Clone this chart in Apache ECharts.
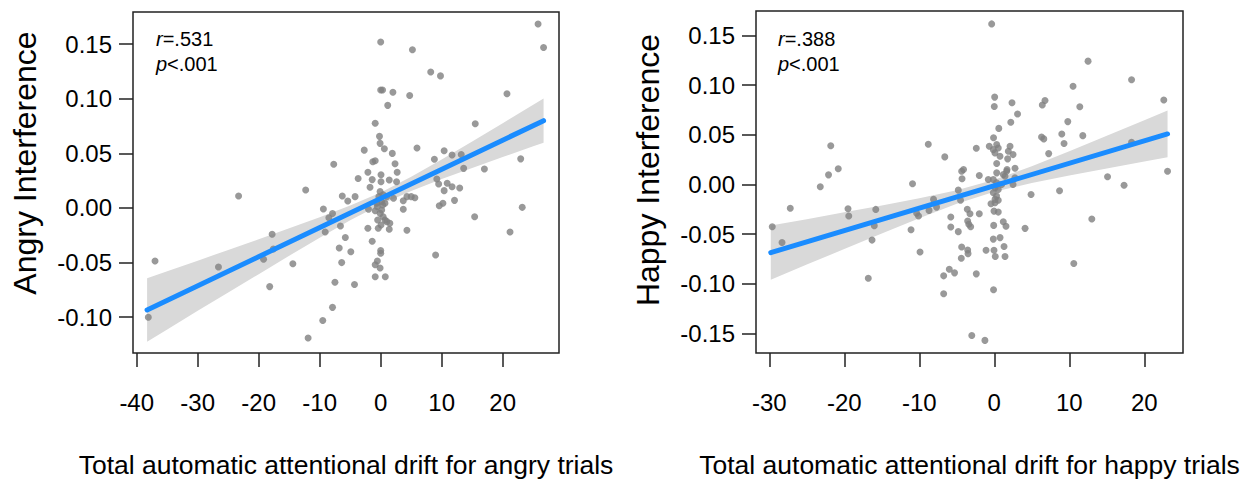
<!DOCTYPE html>
<html>
<head>
<meta charset="utf-8">
<script src="https://cdn.jsdelivr.net/npm/echarts@6/dist/echarts.min.js"></script>
<style>
html,body{margin:0;padding:0;background:#fff;}
#chart{width:1248px;height:483px;}
</style>
</head>
<body>
<div id="chart"></div>
<script>
// ---- Left panel: angry trials ----
const angryX = [-38.1,-37.0,-26.6,-23.3,-17.8,-17.6,-19.2,-18.2,-14.4,-12.3,-11.9,
  -9.4,-7.9,-8.5,-9.1,-6.6,-5.8,-6.8,-4.9,-6.4,-7.5,-4.3,-7.9,-9.5,-6.3,-5.4,-4.2,-3.7,-2.1,-1.75,-1.4,
  0.05,0.05,1.4,2.6,2.7,-0.1,-0.3,0.4,1.0,0.15,0.7,2.1,-0.55,-0.9,-0.1,0.4,-0.5,1.0,1.5,0.05,-2.0,-2.1,-0.4,1.4,
  -1.4,0.0,0.0,-0.55,-0.9,-0.1,-0.9,0.75,4.3,3.7,5.6,5.0,3.7,4.3,9.2,9.5,10.9,10.4,11.7,12.95,12.1,10.2,9.6,
  15.4,9.0,21.2,23.2,25.8,26.7,0.0,5.2,8.2,9.8,20.7,0.0,0.3,2.0,4.75,1.15,-0.9,15.5,-0.2,-0.1,0.6,-2.7,5.95,
  1.9,-7.7,-1.3,-0.9,2.35,8.8,10.4,11.7,13.2,13.6,17.0,22.95,-0.66,0.33,0.16,0.7];
const angryY = [-0.100,-0.0485,-0.054,0.011,-0.024,-0.0375,-0.047,-0.072,-0.051,0.0165,-0.119,
  -0.001,-0.005,-0.009,-0.022,-0.0165,-0.027,-0.0366,-0.040,-0.050,-0.068,-0.070,-0.091,-0.103,0.011,0.0064,0.0104,0.027,0.0327,0.019,0.026,
  0.0305,0.024,0.0256,0.024,0.0327,0.015,0.0104,0.012,0.0104,0.0058,0.0043,0.0089,0.0012,-0.0025,-0.0049,-0.008,-0.011,-0.0125,-0.014,-0.0156,-0.0012,-0.0186,-0.0186,-0.0195,
  -0.0305,-0.039,-0.0415,-0.0485,-0.052,-0.055,-0.063,-0.063,0.0104,0.0067,0.0094,0.0104,-0.0012,-0.0204,0.0265,0.022,0.0226,0.0159,0.0195,0.0183,0.007,0.0043,0.0021,
  -0.008,-0.043,-0.022,0.0006,0.1685,0.147,0.152,0.145,0.1245,0.121,0.1047,0.108,0.108,0.106,0.103,0.094,0.0776,0.0772,0.0656,0.0592,0.0543,0.053,0.055,
  0.050,0.040,0.0424,0.0433,0.0406,0.0446,0.0525,0.0485,0.049,0.0363,0.0357,0.045,0.0043,0.0027,-0.0018,-0.011];
const angryXTicks = [-40,-30,-20,-10,0,10,20];
const angryYTicks = [-0.10,-0.05,0.00,0.05,0.10,0.15];
const angryFitX = [-38.3, 26.7];
const angryFitY = [-0.0934, 0.0800];
const angryBandX  = [-38.3,-35,-30,-25,-20,-15,-10,-5,0,5,10,15,20,25,26.7];
const angryBandLo = [-0.1224,-0.1112,-0.0942,-0.0774,-0.0606,-0.0438,-0.0273,-0.0113,0.0033,0.0156,0.0265,0.0367,0.0467,0.0565,0.0598];
const angryBandHi = [-0.0644,-0.0580,-0.0482,-0.0384,-0.0286,-0.0186,-0.0085,0.0023,0.0143,0.0286,0.0445,0.0609,0.0777,0.0945,0.1002];
const angryStats = ['.531', '<.001'];

// ---- Right panel: happy trials ----
const happyX = [-21.8,-8.8,-20.8,-22.1,-23.2,-27.2,-29.6,-28.3,-19.5,-19.4,-15.8,-16.0,-16.3,-16.8,-10.9,-11.1,-9.9,-10.35,-10.1,-8.7,-8.1,-7.7,
  -4.35,-4.1,-2.0,-4.3,-4.8,-4.5,-3.6,-3.24,-2.0,-5.8,-5.8,-4.8,-3.55,-3.4,-3.15,-4.35,-3.55,-3.5,-4.4,-6.0,-6.75,-5.3,-2.4,-6.75,-3.0,-1.25,-0.1,
  -0.13,0.3,0.1,0.53,-0.13,0.3,0.1,0.53,-0.44,0.1,-0.04,0.53,1.2,1.56,-0.08,-0.13,0.77,1.3,-1.1,-0.04,0.13,1.43,-0.8,0.98,1.43,2.5,2.75,1.65,
  4.9,8.7,4.1,13.0,10.6,15.1,17.3,23.1,-0.35,12.5,18.3,10.5,22.6,0.05,0.0,2.36,3.1,2.2,0.6,6.76,6.4,11.4,9.8,9.0,11.8,9.3,6.3,6.6,7.25,18.3,
  -0.1,-2.4,-0.67,-0.13,0.32,0.53,0.09,0.76,2.1,1.87,2.5,1.78,0.32,1.7,2.76,-6.6,0.32,1.2];
const happyY = [0.039,0.0405,0.0158,0.0097,-0.0023,-0.024,-0.0425,-0.0585,-0.0244,-0.0318,-0.0251,-0.0415,-0.056,-0.0944,0.0007,-0.0455,-0.068,-0.029,-0.0318,-0.0261,-0.015,-0.0228,
  0.0134,0.015,0.009,0.0057,-0.0057,-0.0158,-0.025,-0.0294,-0.0294,-0.0328,-0.0428,-0.0475,-0.0368,-0.040,-0.0425,-0.063,-0.066,-0.0696,-0.0743,-0.0853,-0.092,-0.089,-0.090,-0.110,-0.152,-0.157,-0.106,
  0.005,0.0017,-0.0033,-0.005,-0.0083,-0.0117,-0.015,-0.0158,-0.0194,-0.0184,-0.0268,-0.0278,-0.0375,-0.042,-0.0412,-0.055,-0.0535,-0.0625,-0.0663,-0.0663,-0.0726,-0.0726,0.005,0.0,0.0083,0.0,0.0067,0.0134,
  -0.010,-0.0063,-0.0442,-0.0348,-0.0796,0.0077,-0.0007,0.0134,0.1617,0.1242,0.1054,0.099,0.085,0.088,0.0786,0.0823,0.071,0.0626,0.0565,0.0846,0.080,0.0783,0.0633,0.0509,0.0492,0.0412,0.0479,0.0459,0.0311,0.0425,
  0.047,0.0365,0.0385,0.0351,0.0402,0.0368,0.0318,0.0284,0.0385,0.0335,0.0301,0.0258,0.0211,0.0151,0.0164,0.0278,0.0117,0.010];
const happyXTicks = [-30,-20,-10,0,10,20];
const happyYTicks = [-0.15,-0.10,-0.05,0.00,0.05,0.10,0.15];
const happyFitX = [-29.8, 23.1];
const happyFitY = [-0.0686, 0.0509];
const happyBandX  = [-29.8,-25,-20,-15,-10,-5,0,5,10,15,20,23.1];
const happyBandLo = [-0.0959,-0.0807,-0.0650,-0.0493,-0.0340,-0.0195,-0.0074,0.0016,0.0091,0.0162,0.0231,0.0273];
const happyBandHi = [-0.0413,-0.0349,-0.0280,-0.0211,-0.0138,-0.0057,0.0048,0.0184,0.0335,0.0490,0.0647,0.0745];
const happyStats = ['.388', '<.001'];

const xTitles = ['Total automatic attentional drift for angry trials', 'Total automatic attentional drift for happy trials'];
const yTitles = ['Angry Interference', 'Happy Interference'];

const FONT = '"Liberation Sans", Arial, Helvetica, sans-serif';
const INK = '#222';

const zip = (a, b) => a.map((v, i) => [v, b[i]]);

function bandSeries(gi, bx, lo, hi) {
  return {
    type: 'custom', xAxisIndex: gi, yAxisIndex: gi, z: 1, silent: true,
    data: bx.map((v, i) => [v, lo[i], hi[i]]),
    encode: {x: 0, y: [1, 2]},
    renderItem: function (params, api) {
      if (params.dataIndex !== 0) return null;
      const pts = [];
      for (let i = 0; i < bx.length; i++) pts.push(api.coord([bx[i], lo[i]]));
      for (let i = bx.length - 1; i >= 0; i--) pts.push(api.coord([bx[i], hi[i]]));
      return {type: 'polygon', shape: {points: pts}, style: {fill: '#d9d9d9', stroke: null}};
    }
  };
}

function xAxisCfg(gi, min, max, ticks, title) {
  return {
    type: 'value', gridIndex: gi, min: min, max: max,
    axisLine: {show: false, onZero: false},
    splitLine: {show: false},
    axisTick: {show: true, customValues: ticks, length: 14, lineStyle: {color: INK, width: 1.5}},
    axisLabel: {customValues: ticks, fontSize: 24, margin: 37, color: '#000', fontFamily: FONT},
    name: title, nameLocation: 'middle', nameGap: 98,
    nameTextStyle: {fontSize: 26.5, color: '#000', fontFamily: FONT}
  };
}
function yAxisCfg(gi, min, max, ticks) {
  return {
    type: 'value', gridIndex: gi, min: min, max: max,
    axisLine: {show: false, onZero: false},
    splitLine: {show: false},
    axisTick: {show: true, customValues: ticks, length: 14, lineStyle: {color: INK, width: 1.5}},
    axisLabel: {customValues: ticks, fontSize: 24, margin: 21, color: '#000', fontFamily: FONT,
      formatter: v => v.toFixed(2)}
  };
}

function statText(x, y, letter, val) {
  return {
    type: 'text', left: x, top: y,
    style: {
      text: '{i|' + letter + '}' + val,
      font: '20px ' + FONT, fill: '#000',
      rich: {i: {fontStyle: 'italic', fontSize: 20, fontFamily: FONT}}
    }
  };
}
function yTitle(x, y, txt) {
  return {
    type: 'text', x: x, y: y, rotation: Math.PI / 2,
    style: {text: txt, font: '32px ' + FONT, fill: '#000', align: 'center', verticalAlign: 'middle'}
  };
}

const chart = echarts.init(document.getElementById('chart'), null, {renderer: 'svg', width: 1248, height: 483});
chart.setOption({
  animation: false,
  backgroundColor: '#fff',
  grid: [
    {left: 133, top: 12, width: 426, height: 341, show: true, borderColor: INK, borderWidth: 1.5, backgroundColor: 'transparent'},
    {left: 756, top: 11, width: 427, height: 343, show: true, borderColor: INK, borderWidth: 1.5, backgroundColor: 'transparent'}
  ],
  xAxis: [
    xAxisCfg(0, -40.61, 29.23, angryXTicks, xTitles[0]),
    xAxisCfg(1, -31.77, 25.16, happyXTicks, xTitles[1])
  ],
  yAxis: [
    yAxisCfg(0, -0.1328, 0.1795, angryYTicks),
    yAxisCfg(1, -0.1697, 0.1747, happyYTicks)
  ],
  graphic: [
    statText(156, 29, 'r', '=' + angryStats[0]),
    statText(156, 54, 'p', angryStats[1]),
    statText(778, 29, 'r', '=' + happyStats[0]),
    statText(778, 54, 'p', happyStats[1]),
    yTitle(25, 163, yTitles[0]),
    yTitle(648, 170, yTitles[1])
  ],
  series: [
    bandSeries(0, angryBandX, angryBandLo, angryBandHi),
    {type: 'scatter', xAxisIndex: 0, yAxisIndex: 0, z: 2, symbolSize: 7, silent: true,
     itemStyle: {color: '#7f7f7f'}, data: zip(angryX, angryY)},
    {type: 'line', xAxisIndex: 0, yAxisIndex: 0, z: 3, symbol: 'none', silent: true,
     lineStyle: {color: '#1a8cff', width: 5, cap: 'round'}, data: zip(angryFitX, angryFitY)},
    bandSeries(1, happyBandX, happyBandLo, happyBandHi),
    {type: 'scatter', xAxisIndex: 1, yAxisIndex: 1, z: 2, symbolSize: 7, silent: true,
     itemStyle: {color: '#7f7f7f'}, data: zip(happyX, happyY)},
    {type: 'line', xAxisIndex: 1, yAxisIndex: 1, z: 3, symbol: 'none', silent: true,
     lineStyle: {color: '#1a8cff', width: 5, cap: 'round'}, data: zip(happyFitX, happyFitY)}
  ]
});
</script>
</body>
</html>
